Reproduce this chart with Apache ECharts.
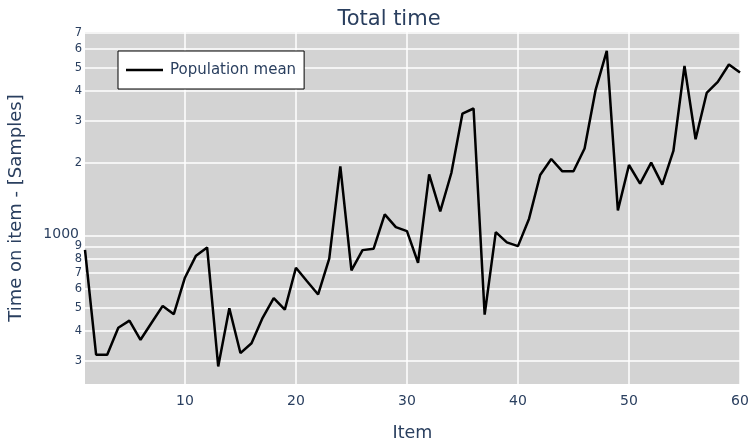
<!DOCTYPE html>
<html>
<head>
<meta charset="utf-8">
<script src="https://cdn.jsdelivr.net/npm/echarts@6/dist/echarts.min.js"></script>
<style>
  html, body { margin: 0; padding: 0; background: #ffffff; }
  #chart { width: 750px; height: 440px; }
</style>
</head>
<body>
<div id="chart"></div>
<script>
// Mean time spent on each item (samples), items 1..60
const items = [];
for (let i = 1; i <= 60; i++) items.push(i);
const populationMean = [
  871, 318, 318, 412, 441, 367, 432, 508, 469, 666,
  823, 891, 284, 497, 323, 355, 453, 547, 490, 733,
  644, 567, 800, 1941, 714, 868, 880, 1224, 1083, 1042,
  769, 1798, 1259, 1820, 3222, 3382, 467, 1032, 935, 902,
  1174, 1786, 2083, 1850, 1850, 2302, 4055, 5882, 1272, 1966,
  1644, 2012, 1628, 2249, 5094, 2516, 3926, 4364, 5162, 4775
];
const xTicks = [10, 20, 30, 40, 50, 60];
const yTicks = [300, 400, 500, 600, 700, 800, 900, 1000, 2000, 3000, 4000, 5000, 6000, 7000];

const FONT = 'DejaVu Sans';
const INK = '#2a3f5f';

const chart = echarts.init(document.getElementById('chart'), null, { renderer: 'canvas' });

chart.setOption({
  backgroundColor: '#ffffff',
  animation: false,
  textStyle: { fontFamily: FONT },
  title: {
    text: 'Total time',
    left: 384,
    textAlign: 'center',
    top: 4,
    textStyle: { fontFamily: FONT, fontSize: 21, fontWeight: 'normal', color: INK }
  },
  legend: {
    left: 118,
    top: 51,
    padding: [11, 8, 11, 8],
    icon: 'rect',
    itemWidth: 37,
    itemHeight: 2.5,
    itemGap: 0,
    backgroundColor: '#ffffff',
    borderColor: '#000000',
    borderWidth: 1,
    borderRadius: 0,
    textStyle: { fontFamily: FONT, fontSize: 15, color: INK, padding: [0, 0, 0, 2], lineHeight: 16 },
    data: ['Population mean']
  },
  grid: {
    left: 85, right: 10, top: 32, bottom: 56,
    show: true,
    backgroundColor: '#d3d3d3',
    borderWidth: 0,
    outerBoundsMode: 'none',
    containLabel: false
  },
  xAxis: {
    type: 'value',
    min: 1,
    max: 60,
    name: 'Item',
    nameLocation: 'middle',
    nameGap: 40,
    nameTextStyle: { fontFamily: FONT, fontSize: 17.5, color: INK },
    axisLine: { show: false },
    axisTick: { show: false, customValues: xTicks },
    axisLabel: {
      customValues: xTicks,
      fontFamily: FONT, fontSize: 14, color: INK, margin: 10
    },
    splitLine: { show: true, lineStyle: { color: '#ffffff', width: 1.5 } }
  },
  yAxis: {
    type: 'log',
    logBase: 10,
    min: 240,
    max: 7050,
    name: 'Time on item - [Samples]',
    nameLocation: 'middle',
    nameGap: 60,
    nameTextStyle: { fontFamily: FONT, fontSize: 18, color: INK },
    axisLine: { show: false },
    axisTick: { show: false, customValues: yTicks },
    axisLabel: {
      customValues: yTicks,
      margin: 3,
      formatter: function (v) {
        const n = Math.round(v);
        if (n === 1000) return '{major|1000}';
        const lead = String(n)[0];
        return '{minor|' + lead + '}';
      },
      rich: {
        major: { fontFamily: FONT, fontSize: 14, color: INK, padding: [0, 3, 3, 0] },
        minor: { fontFamily: FONT, fontSize: 11.5, color: INK }
      }
    },
    splitLine: { show: true, lineStyle: { color: '#ffffff', width: 1.5 } }
  },
  series: [{
    name: 'Population mean',
    type: 'line',
    data: items.map((x, i) => [x, populationMean[i]]),
    showSymbol: false,
    symbol: 'none',
    lineStyle: { color: '#000000', width: 2.5 },
    itemStyle: { color: '#000000' }
  }]
});
</script>
</body>
</html>
